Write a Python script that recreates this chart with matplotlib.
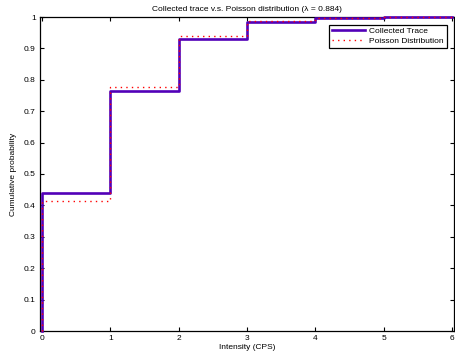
import numpy as np
import matplotlib
matplotlib.use('Agg')
import matplotlib.pyplot as plt

plt.rcParams['font.family'] = ['Liberation Sans', 'DejaVu Sans']

# step positions (intensity, CPS)
intensity = [0, 0, 1, 2, 3, 4, 5, 6]
# cumulative probability of the collected trace
trace_cdf = [0, 0.44, 0.763, 0.93, 0.983, 0.997, 1.0, 1.0]
# cumulative probability of the Poisson fit
poisson_cdf = [0, 0.413, 0.778, 0.939, 0.987, 0.997, 1.0, 1.0]

fig = plt.figure(figsize=(4.55, 3.6), dpi=100)
ax = fig.add_axes([40/455, 1 - 331/360, 414/455, 314/360])

ax.step(intensity, trace_cdf, where='post', color='#5200b8', lw=1.9,
        label='Collected Trace', clip_on=False, zorder=3)
ax.step(intensity, poisson_cdf, where='post', color='red', lw=1.0, ls=(0, (1, 3)),
        label='Poisson Distribution', clip_on=False, zorder=4)

ax.set_xlim(-0.03, 6.03)
ax.set_ylim(0, 1)
ax.set_xticks(range(0, 7))
ax.set_yticks(np.arange(0, 1.01, 0.1))
ax.set_yticklabels(['0', '0.1', '0.2', '0.3', '0.4', '0.5', '0.6', '0.7', '0.8', '0.9', '1'])
ax.tick_params(direction='in', top=True, right=True, labelsize=6, length=3, width=0.8, pad=3)
for s in ax.spines.values():
    s.set_linewidth(0.9)

ax.set_xlabel('Intensity (CPS)', fontsize=6, labelpad=1)
ax.set_ylabel('Cumulative probability', fontsize=6, labelpad=5)
ax.set_title('Collected trace v.s. Poisson distribution (\u03bb = 0.884)', fontsize=6, pad=4)

leg = ax.legend(loc='upper right', fontsize=6, fancybox=False, framealpha=1,
                edgecolor='black', borderaxespad=0.9, handlelength=4.0,
                handletextpad=0.5, borderpad=0.3, labelspacing=0.3)
leg.get_frame().set_linewidth(0.9)

fig.savefig('out.png', dpi=100)
